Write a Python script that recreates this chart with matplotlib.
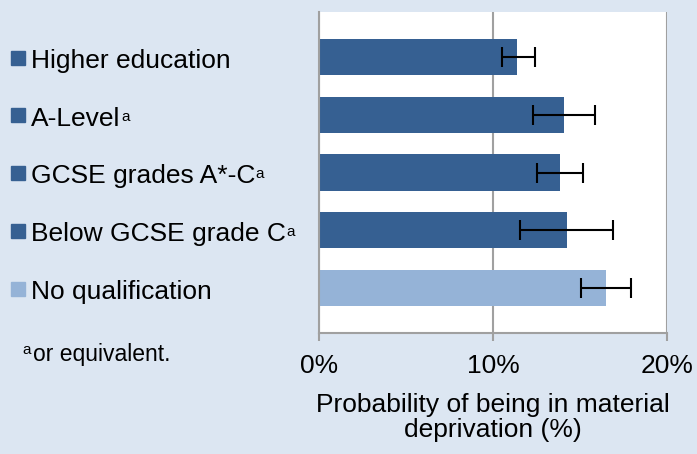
import numpy as np
import matplotlib.pyplot as plt
from matplotlib.transforms import blended_transform_factory, IdentityTransform

# podaci (procitano sa slike)
kategorije = ["Higher education", "A-Level", "GCSE grades A*-C",
              "Below GCSE grade C", "No qualification"]
fusnota = [False, True, True, True, False]
vrednosti = [11.4, 14.1, 13.85, 14.25, 16.5]
greska_dole = [0.9, 1.8, 1.35, 2.7, 1.45]
greska_gore = [1.0, 1.75, 1.35, 2.65, 1.45]
boje = ["#366092", "#366092", "#366092", "#366092", "#95B3D7"]
x_ticks = [0, 10, 20]
x_tick_labels = ["0%", "10%", "20%"]

pozadina = "#DCE6F2"
siva = "#A0A0A0"

plt.rcParams['font.family'] = ['Liberation Sans', 'DejaVu Sans']


def main():
    fig = plt.figure(figsize=(6.97, 4.54), dpi=100, facecolor=pozadina)
    ax = fig.add_axes([319/697, 1 - 333/454, (667-319)/697, (333-12)/454])
    ax.set_facecolor("white")

    y = np.arange(len(kategorije))
    ax.barh(y, vrednosti, height=0.63, color=boje, zorder=2)
    ax.errorbar(vrednosti, y, xerr=[greska_dole, greska_gore], fmt='none',
                ecolor='black', elinewidth=1.5, capsize=7.5, capthick=1.5,
                zorder=3)

    ax.set_xlim(0, 20)
    ax.set_ylim(4.78, -0.78)
    ax.set_yticks([])
    ax.set_xticks(x_ticks)
    ax.set_xticklabels(x_tick_labels, fontsize=19)
    ax.tick_params(axis='x', direction='out', length=6, width=1.5,
                   color=siva, pad=9)
    ax.grid(axis='x', color=siva, linewidth=1.5, zorder=1)
    ax.set_axisbelow(True)
    for s in ['top', 'right']:
        ax.spines[s].set_visible(False)
    ax.spines['left'].set_color(siva)
    ax.spines['left'].set_linewidth(1.5)
    ax.spines['bottom'].set_color(siva)
    ax.spines['bottom'].set_linewidth(1.5)

    ax.set_xlabel("Probability of being in material\ndeprivation (%)",
                  fontsize=19, labelpad=11, linespacing=1.05)

    # oznake kategorija sa kvadraticima
    tr = blended_transform_factory(fig.transFigure, ax.transData)
    renderer = fig.canvas.get_renderer()
    for i, ime in enumerate(kategorije):
        ax.plot([18/697], [i + 0.01], marker='s', markersize=10.5,
                color=boje[i], transform=tr, clip_on=False,
                linestyle='none')
        t = ax.text(31/697, i + 0.19, ime, fontsize=19, transform=tr,
                    va='baseline', ha='left')
        if fusnota[i]:
            # eksponent "a" odmah posle teksta, malo iznad osnovne linije
            bb = t.get_window_extent(renderer)
            xb, yb = tr.transform((31/697, i + 0.19))
            fig.text(bb.x1 + 0.5, yb + 5, "a", fontsize=11, va='baseline',
                     ha='left', transform=IdentityTransform())

    # fusnota
    fig.text(33/697, 1 - 361/454, "or equivalent.", fontsize=16.5,
             va='baseline', ha='left')
    fig.text(22/697, 1 - 354/454, "a", fontsize=11, va='baseline',
             ha='left')

    fig.savefig("out.png", dpi=100, facecolor=pozadina)


if __name__ == "__main__":
    main()
